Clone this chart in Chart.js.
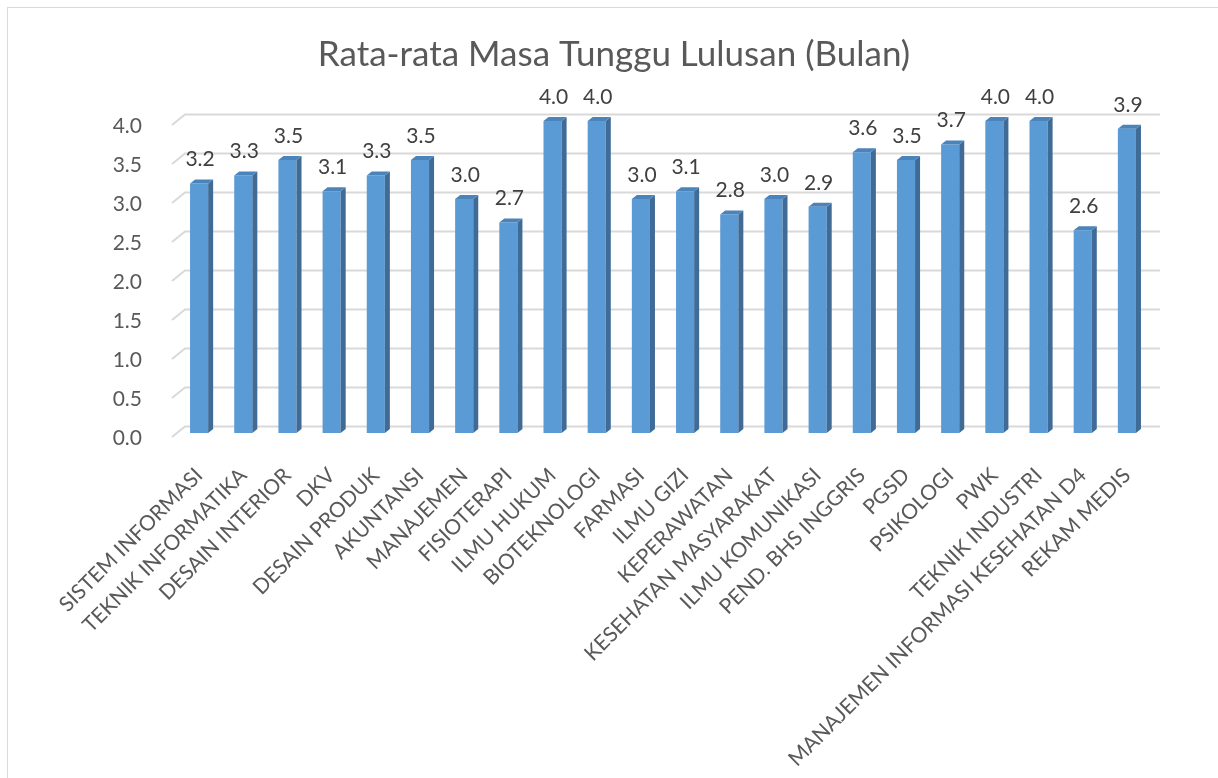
<!DOCTYPE html>
<html>
<head>
<meta charset="utf-8">
<script src="https://cdn.jsdelivr.net/npm/chart.js@4/dist/chart.umd.min.js"></script>
<style>
  html, body { margin: 0; padding: 0; background: #fff; overflow: hidden; }
  #frame { position: absolute; left: 7px; top: 7px; width: 1400px; height: 1000px;
           border-left: 1px solid #d9d9d9; border-top: 1px solid #d9d9d9; }
  #wrap { position: absolute; left: 0; top: 0; width: 1218px; height: 778px; }
</style>
</head>
<body>
<div id="frame"></div>
<div id="wrap"><canvas id="chart"></canvas></div>
<script>
// program studi
const prodi = [
  'SISTEM INFORMASI', 'TEKNIK INFORMATIKA', 'DESAIN INTERIOR', 'DKV', 'DESAIN PRODUK',
  'AKUNTANSI', 'MANAJEMEN', 'FISIOTERAPI', 'ILMU HUKUM', 'BIOTEKNOLOGI', 'FARMASI',
  'ILMU GIZI', 'KEPERAWATAN', 'KESEHATAN MASYARAKAT', 'ILMU KOMUNIKASI',
  'PEND. BHS INGGRIS', 'PGSD', 'PSIKOLOGI', 'PWK', 'TEKNIK INDUSTRI',
  'MANAJEMEN INFORMASI KESEHATAN D4', 'REKAM MEDIS'
]
// rata-rata masa tunggu (bulan)
const masaTunggu = [3.2, 3.3, 3.5, 3.1, 3.3, 3.5, 3.0, 2.7, 4.0, 4.0, 3.0,
                    3.1, 2.8, 3.0, 2.9, 3.6, 3.5, 3.7, 4.0, 4.0, 2.6, 3.9]
const yTicks = [0, 0.5, 1, 1.5, 2, 2.5, 3, 3.5, 4]

const textColor = '#595959'
const frontColor = '#5b9bd5'
const sideColor = '#3f6b96'
const topColor = '#4b83bb'
const gridColor = '#d9d9d9'

Chart.defaults.font.family = 'Lato, "Open Sans", sans-serif'
Chart.defaults.color = textColor

// back wall gridlines with the little diagonal on the left
const wallGrid = {
  id: 'wallGrid',
  beforeDatasetsDraw(chart) {
    const ctx = chart.ctx
    const y = chart.scales.y
    const area = chart.chartArea
    ctx.save()
    ctx.strokeStyle = gridColor
    ctx.lineWidth = 2
    yTicks.forEach(v => {
      const yf = y.getPixelForValue(v) + 4
      ctx.beginPath()
      ctx.moveTo(area.left - 5, yf)
      ctx.lineTo(area.left + 8, yf - 10.5)
      ctx.lineTo(area.right + 11, yf - 10.5)
      ctx.stroke()
    })
    ctx.restore()
  }
}

// fake 3d faces + value labels
const bars3d = {
  id: 'bars3d',
  afterDatasetsDraw(chart) {
    const ctx = chart.ctx
    const meta = chart.getDatasetMeta(0)
    const dx = 5, dy = 4
    ctx.save()
    meta.data.forEach((bar, i) => {
      const half = bar.width / 2
      const l = bar.x - half, r = bar.x + half
      // side
      ctx.fillStyle = sideColor
      ctx.beginPath()
      ctx.moveTo(r, bar.y)
      ctx.lineTo(r + dx, bar.y - dy)
      ctx.lineTo(r + dx, bar.base - dy)
      ctx.lineTo(r, bar.base)
      ctx.closePath()
      ctx.fill()
      // top
      ctx.fillStyle = topColor
      ctx.beginPath()
      ctx.moveTo(l, bar.y)
      ctx.lineTo(l + dx, bar.y - dy)
      ctx.lineTo(r + dx, bar.y - dy)
      ctx.lineTo(r, bar.y)
      ctx.closePath()
      ctx.fill()
      // label
      ctx.fillStyle = '#404040'
      ctx.font = '21px Lato, "Open Sans", sans-serif'
      ctx.textAlign = 'center'
      ctx.textBaseline = 'middle'
      ctx.fillText(masaTunggu[i].toFixed(1), bar.x + 1, bar.y - 24)
    })
    ctx.restore()
  }
}

new Chart(document.getElementById('chart'), {
  type: 'bar',
  data: {
    labels: prodi,
    datasets: [{
      data: masaTunggu,
      backgroundColor: frontColor,
      borderWidth: 0,
      barPercentage: 0.41,
      categoryPercentage: 1
    }]
  },
  options: {
    responsive: true,
    maintainAspectRatio: false,
    devicePixelRatio: 1,
    animation: false,
    layout: { padding: { left: 10, right: 0, top: 0, bottom: 0 } },
    scales: {
      x: {
        grid: { display: false },
        border: { display: false },
        ticks: {
          autoSkip: false,
          maxRotation: 45,
          minRotation: 45,
          padding: 22,
          color: textColor,
          font: { size: 21 }
        },
        afterFit: s => { s.height = 345 }
      },
      y: {
        min: 0,
        max: 4,
        grid: { display: false },
        border: { display: false },
        ticks: {
          stepSize: 0.5,
          padding: 27,
          labelOffset: 5,
          color: textColor,
          font: { size: 21 },
          callback: v => v.toFixed(1)
        },
        afterFit: s => { s.width = 167 }
      },
      // empty spacer on the right so the title centres on the whole canvas
      yRight: {
        position: 'right',
        grid: { display: false },
        border: { display: false },
        ticks: { display: false },
        afterFit: s => { s.width = 69 }
      }
    },
    plugins: {
      legend: { display: false },
      tooltip: { enabled: false },
      title: {
        display: true,
        text: 'Rata-rata Masa Tunggu Lulusan (Bulan)',
        color: textColor,
        font: { size: 35, weight: 'normal' },
        padding: { top: 34, bottom: 45 }
      }
    }
  },
  plugins: [wallGrid, bars3d]
})
</script>
</body>
</html>
